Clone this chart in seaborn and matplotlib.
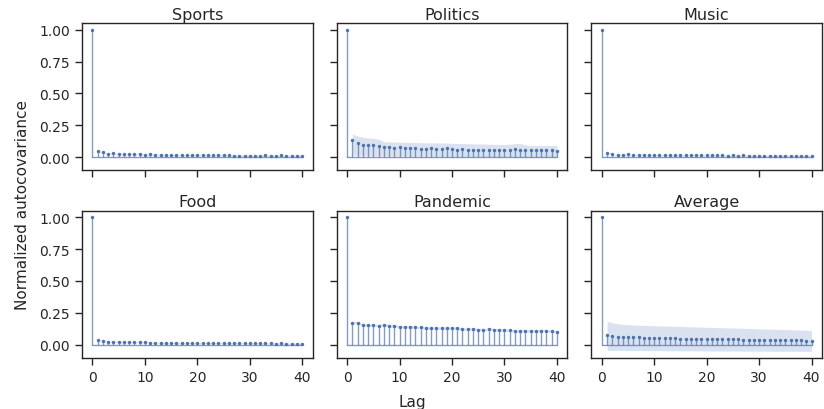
import numpy as np
import pandas as pd
import matplotlib
matplotlib.use("Agg")
import matplotlib.pyplot as plt
import seaborn as sns

lags = list(range(41))
titles = ["Sports", "Politics", "Music", "Food", "Pandemic", "Average"]

sports = [1.0, 0.046, 0.036, 0.026, 0.028, 0.022, 0.022, 0.022, 0.023, 0.024, 0.020,
          0.021, 0.019, 0.018, 0.019, 0.017, 0.016, 0.018, 0.016, 0.017, 0.016,
          0.015, 0.014, 0.014, 0.015, 0.014, 0.015, 0.012, 0.012, 0.012, 0.011,
          0.012, 0.011, 0.013, 0.010, 0.012, 0.013, 0.011, 0.012, 0.011, 0.010]
politics = [1.0, 0.131, 0.108, 0.098, 0.098, 0.093, 0.088, 0.075, 0.075, 0.072, 0.075,
            0.072, 0.070, 0.070, 0.067, 0.067, 0.070, 0.067, 0.064, 0.072, 0.062,
            0.059, 0.064, 0.057, 0.057, 0.057, 0.057, 0.057, 0.057, 0.057, 0.054,
            0.059, 0.064, 0.057, 0.054, 0.054, 0.054, 0.054, 0.052, 0.052, 0.049]
music = [1.0, 0.034, 0.021, 0.019, 0.019, 0.022, 0.019, 0.019, 0.018, 0.017, 0.017,
         0.018, 0.015, 0.015, 0.014, 0.015, 0.013, 0.016, 0.014, 0.013, 0.013,
         0.013, 0.014, 0.015, 0.012, 0.013, 0.012, 0.013, 0.012, 0.012, 0.011,
         0.010, 0.011, 0.012, 0.012, 0.011, 0.012, 0.011, 0.010, 0.011, 0.010]
food = [1.0, 0.036, 0.031, 0.024, 0.023, 0.021, 0.022, 0.019, 0.020, 0.020, 0.019,
        0.017, 0.016, 0.016, 0.015, 0.015, 0.014, 0.015, 0.013, 0.013, 0.012,
        0.012, 0.013, 0.013, 0.014, 0.011, 0.012, 0.013, 0.011, 0.012, 0.011,
        0.010, 0.011, 0.010, 0.010, 0.009, 0.010, 0.009, 0.009, 0.008, 0.008]
pandemic = [1.0, 0.174, 0.171, 0.158, 0.153, 0.153, 0.150, 0.155, 0.148, 0.148, 0.142,
            0.140, 0.142, 0.137, 0.135, 0.132, 0.130, 0.130, 0.130, 0.130, 0.132,
            0.127, 0.122, 0.122, 0.124, 0.119, 0.117, 0.124, 0.119, 0.117, 0.114,
            0.114, 0.106, 0.106, 0.109, 0.106, 0.109, 0.111, 0.109, 0.106, 0.101]
average = [1.0, 0.075, 0.070, 0.062, 0.062, 0.060, 0.057, 0.057, 0.056, 0.055, 0.052,
           0.052, 0.051, 0.050, 0.049, 0.048, 0.047, 0.048, 0.046, 0.046, 0.045,
           0.044, 0.043, 0.043, 0.042, 0.041, 0.041, 0.040, 0.039, 0.039, 0.038,
           0.037, 0.037, 0.036, 0.035, 0.035, 0.034, 0.033, 0.033, 0.032, 0.031]

# band (lags 1..40): lower and upper edges
politics_upper = [0.180, 0.165, 0.155, 0.150, 0.146, 0.142, 0.120, 0.119, 0.118, 0.118,
                  0.116, 0.115, 0.114, 0.113, 0.112, 0.112, 0.111, 0.110, 0.110, 0.108,
                  0.107, 0.106, 0.105, 0.104, 0.103, 0.102, 0.101, 0.100, 0.099, 0.098,
                  0.100, 0.106, 0.108, 0.095, 0.090, 0.090, 0.090, 0.090, 0.090, 0.090]
politics_lower = [0.015, 0.014, 0.013, 0.012, 0.012, 0.011, 0.010, 0.010, 0.010, 0.010,
                  0.009, 0.009, 0.009, 0.008, 0.008, 0.008, 0.007, 0.007, 0.007, 0.006,
                  0.006, 0.006, 0.005, 0.005, 0.005, 0.004, 0.004, 0.004, 0.003, 0.003,
                  0.003, 0.003, 0.002, 0.002, 0.002, 0.001, 0.001, 0.001, 0.000, 0.000]
average_upper = [0.184, 0.172, 0.165, 0.160, 0.157, 0.155, 0.153, 0.151, 0.150, 0.148,
                 0.147, 0.146, 0.145, 0.144, 0.143, 0.141, 0.140, 0.139, 0.138, 0.136,
                 0.135, 0.134, 0.133, 0.132, 0.131, 0.130, 0.129, 0.127, 0.126, 0.124,
                 0.123, 0.122, 0.121, 0.120, 0.119, 0.117, 0.116, 0.115, 0.113, 0.112]
average_lower = [-0.044, -0.045, -0.045, -0.045, -0.046, -0.046, -0.046, -0.047, -0.047, -0.047,
                 -0.047, -0.048, -0.048, -0.048, -0.048, -0.049, -0.049, -0.049, -0.049, -0.049,
                 -0.050, -0.050, -0.050, -0.050, -0.050, -0.050, -0.051, -0.051, -0.051, -0.051,
                 -0.051, -0.051, -0.052, -0.052, -0.052, -0.052, -0.052, -0.052, -0.052, -0.052]
pandemic_halfwidth = 0.010
small_halfwidth = 0.004

series = [sports, politics, music, food, pandemic, average]

sns.set_theme(style="ticks", context="notebook")
plt.rcParams["font.family"] = ["DejaVu Sans"]
blue = sns.color_palette("deep")[0]

fig, axes = plt.subplots(2, 3, figsize=(8.24, 4.10), dpi=100, sharex=True, sharey=True)
fig.subplots_adjust(left=0.0995, right=0.9976, top=0.9415, bottom=0.1244,
                    wspace=0.104, hspace=0.273)

for i, (ax, title, vals) in enumerate(zip(axes.flat, titles, series)):
    x = np.array(lags)
    y = np.array(vals)
    if title == "Politics":
        lo, hi = np.array(politics_lower), np.array(politics_upper)
    elif title == "Average":
        lo, hi = np.array(average_lower), np.array(average_upper)
    elif title == "Pandemic":
        lo, hi = y[1:] - pandemic_halfwidth, y[1:] + pandemic_halfwidth
    else:
        lo, hi = y[1:] - small_halfwidth, y[1:] + small_halfwidth
    ax.fill_between(x[1:], lo, hi, color=blue, alpha=0.2, linewidth=0)
    markerline, stemlines, baseline = ax.stem(x, y, linefmt="-", markerfmt="o", basefmt="-")
    plt.setp(stemlines, color=blue, linewidth=1.0, alpha=0.7)
    plt.setp(baseline, color=blue, linewidth=1.0, alpha=0.7)
    markerline.set_visible(False)
    sns.scatterplot(x=x, y=y, ax=ax, color=blue, s=6, linewidth=0, zorder=3)
    ax.set_title(title, fontsize=11.5, pad=3)
    ax.set_xticks([0, 10, 20, 30, 40])
    ax.set_yticks([0.0, 0.25, 0.5, 0.75, 1.0])
    ax.tick_params(labelsize=10, length=5, width=1.0)
    for s in ax.spines.values():
        s.set_linewidth(1.0)
    ax.set_xlabel("")
    ax.set_ylabel("")

axes[0, 0].yaxis.set_major_formatter(matplotlib.ticker.FormatStrFormatter("%.2f"))
fig.supxlabel("Lag", fontsize=11, y=0.0)
fig.supylabel("Normalized autocovariance", fontsize=11, x=0.018)

fig.savefig("out.png", dpi=100)
